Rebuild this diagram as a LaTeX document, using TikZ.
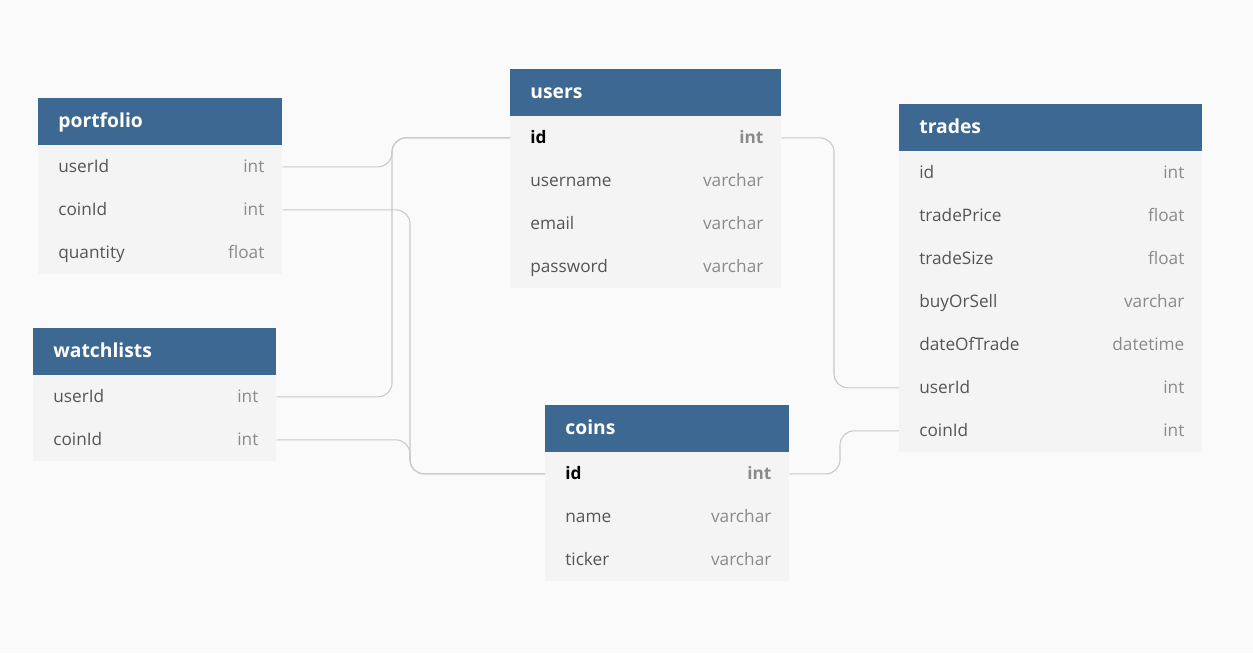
\documentclass[tikz,border=0pt]{standalone}
\usepackage{fontspec}
\setmainfont{Open Sans}
\usetikzlibrary{positioning, calc}
\definecolor{canvas}{HTML}{FAFAFA}
\definecolor{headblue}{HTML}{3D6891}
\definecolor{rowgray}{HTML}{F4F4F4}
\definecolor{coltext}{HTML}{555555}
\definecolor{typetext}{HTML}{8A8A8A}
\definecolor{linkgray}{HTML}{C8C8C8}

\tikzset{
	head/.style={rectangle, fill=headblue, minimum height=0.94cm, inner sep=0pt, anchor=north west},
	row/.style={rectangle, fill=rowgray, minimum height=0.86cm, inner sep=0pt, anchor=north west},
	cell/.style={inner sep=0pt, text height=1.6ex, text depth=0.45ex},
	title/.style={cell, anchor=west, text=white, font=\fontsize{11}{13}\selectfont\bfseries},
	plain/.style={cell, text=coltext, font=\fontsize{9.8}{12}\selectfont},
	key/.style={cell, text=black, font=\fontsize{9.8}{12}\selectfont\bfseries},
	plaintype/.style={cell, text=typetext, font=\fontsize{9.8}{12}\selectfont},
	keytype/.style={cell, text=typetext, font=\fontsize{9.8}{12}\selectfont\bfseries},
	link/.style={draw=linkgray, line width=0.6pt, rounded corners=8}
}

% name, x, y, width (px), title, rows
\newcommand{\erdtable}[6]{%
	\node[head, minimum width=#4*0.02cm] (#1) at (#2,#3) {};
	\node[title] at ([xshift=0.4cm]#1.west) {#5};
	\foreach \n/\t/\s [count=\i] in {#6} {
		\pgfmathsetmacro{\ry}{#3+47+43*(\i-1)}
		\node[row, minimum width=#4*0.02cm] (#1-\i) at (#2,\ry) {};
		\node[\s, anchor=west] at ([xshift=0.4cm]#1-\i.west) {\n};
		\node[\s type, anchor=east] at ([xshift=-0.36cm]#1-\i.east) {\t};
	}
}

\begin{document}
\begin{tikzpicture}[x=0.02cm, y=-0.02cm]
	\useasboundingbox[fill=canvas] (0,0) rectangle (1253,653);

	\erdtable{pf}{38}{98}{244}{portfolio}{userId/int/plain, coinId/int/plain, quantity/float/plain}
	\erdtable{us}{510}{69}{271}{users}{id/int/key, username/varchar/plain, email/varchar/plain, password/varchar/plain}
	\erdtable{tr}{899}{104}{303}{trades}{id/int/plain, tradePrice/float/plain, tradeSize/float/plain, buyOrSell/varchar/plain, dateOfTrade/datetime/plain, userId/int/plain, coinId/int/plain}
	\erdtable{wl}{33}{328}{243}{watchlists}{userId/int/plain, coinId/int/plain}
	\erdtable{co}{545}{405}{244}{coins}{id/int/key, name/varchar/plain, ticker/varchar/plain}

	\coordinate (busU) at (392,0);
	\coordinate (busC) at (410,0);
	\coordinate (busT) at (834,0);
	\coordinate (busK) at (840,0);

	\draw[link] (pf-1.east) -- (pf-1.east -| busU) |- (us-1.west);
	\draw[link] (wl-1.east) -- (wl-1.east -| busU) |- (us-1.west);
	\draw[link] (pf-2.east) -- (pf-2.east -| busC) |- (co-1.west);
	\draw[link] (wl-2.east) -- (wl-2.east -| busC) |- (co-1.west);
	\draw[link] (us-1.east) -- (us-1.east -| busT) |- (tr-6.west);
	\draw[link] (co-1.east) -- (co-1.east -| busK) |- (tr-7.west);
\end{tikzpicture}
\end{document}
